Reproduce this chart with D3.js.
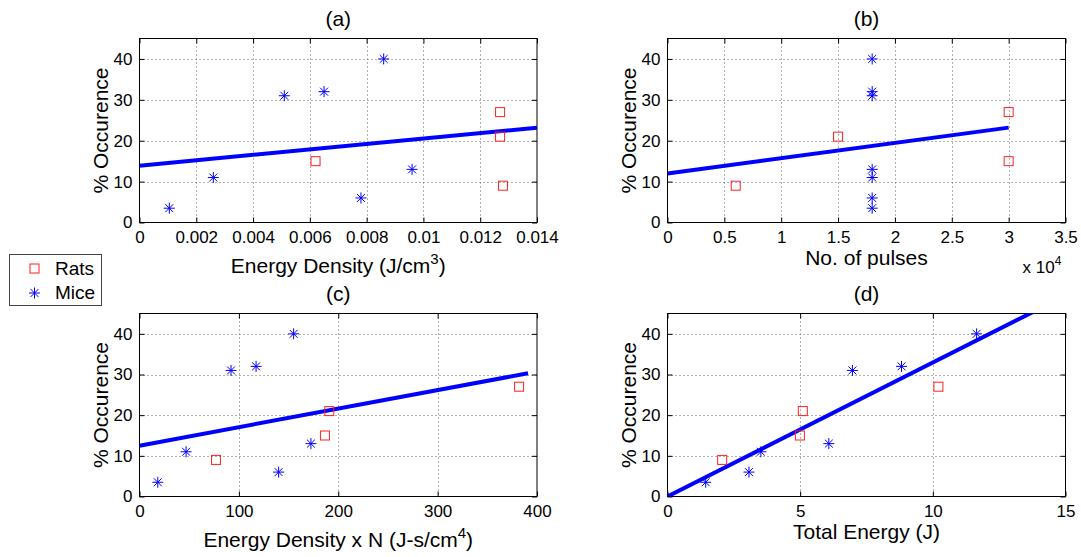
<!DOCTYPE html>
<html>
<head>
<meta charset="utf-8">
<script src="https://cdn.jsdelivr.net/npm/d3@7"></script>
<style>
  html, body { margin: 0; padding: 0; background: #fff; }
  svg { display: block; font-family: "Liberation Sans", Arial, sans-serif; }
</style>
</head>
<body>
<svg id="chart" width="1081" height="557"></svg>
<script>
// ---- Data ----
const miceOccurrence = [3.5, 11, 31, 32, 6, 40, 13];
const ratsOccurrence = [9, 15, 21, 27];

const miceEnergyDensity = [0.00105, 0.0026, 0.0051, 0.0065, 0.0078, 0.0086, 0.0096];
const ratsEnergyDensity = [0.0128, 0.0062, 0.0127, 0.0127];

const micePulses = [1.8, 1.8, 1.8, 1.8, 1.8, 1.8, 1.8]; // x 10^4
const ratsPulses = [0.6, 3.0, 1.5, 3.0];

const miceEnergyDensityN = [18.4, 46.9, 92.1, 117.3, 140, 155.1, 172.5];
const ratsEnergyDensityN = [77, 186.6, 191, 382];

const miceTotalEnergy = [1.44, 3.52, 6.97, 8.82, 3.07, 11.65, 6.08];
const ratsTotalEnergy = [2.06, 4.99, 5.1, 10.21];

// Fit line endpoints [x0, x1], [y0, y1]
const fitA = { x: [0, 0.014], y: [13.9, 23.2] };
const fitB = { x: [0, 3.0], y: [12.0, 23.2] };
const fitC = { x: [0, 391], y: [12.5, 30.3] };
const fitD = { x: [0, 15], y: [0, 49.4] };

const yTicks = [0, 10, 20, 30, 40];
const xTicksA = [0, 0.002, 0.004, 0.006, 0.008, 0.01, 0.012, 0.014];
const xTicksB = [0, 0.5, 1, 1.5, 2, 2.5, 3, 3.5];
const xTicksC = [0, 100, 200, 300, 400];
const xTicksD = [0, 5, 10, 15];

const legendLabels = ["Rats", "Mice"];

// ---- Drawing ----
const svg = d3.select("#chart");

const panels = [
  { id: "a", title: "(a)", box: [139.5, 537, 38.5, 222.5], xDomain: [0, 0.014], xTicks: xTicksA,
    mx: miceEnergyDensity, rx: ratsEnergyDensity, fit: fitA,
    label: ["Energy Density (J/cm", "3", ")"], labelY: 273 },
  { id: "b", title: "(b)", box: [667.5, 1065.5, 38.5, 222.5], xDomain: [0, 3.5], xTicks: xTicksB,
    mx: micePulses, rx: ratsPulses, fit: fitB,
    label: ["No. of pulses"], labelY: 265, exponent: true },
  { id: "c", title: "(c)", box: [139.5, 537, 313.5, 496.5], xDomain: [0, 400], xTicks: xTicksC,
    mx: miceEnergyDensityN, rx: ratsEnergyDensityN, fit: fitC,
    label: ["Energy Density x N (J-s/cm", "4", ")"], labelY: 547 },
  { id: "d", title: "(d)", box: [667.5, 1065.5, 313.5, 496.5], xDomain: [0, 15], xTicks: xTicksD,
    mx: miceTotalEnergy, rx: ratsTotalEnergy, fit: fitD,
    label: ["Total Energy (J)"], labelY: 539 }
];

function starPath(cx, cy, r) {
  const d = r * 0.72;
  return `M${cx},${cy - r}L${cx},${cy + r}M${cx - r},${cy}L${cx + r},${cy}` +
         `M${cx - d},${cy - d}L${cx + d},${cy + d}M${cx - d},${cy + d}L${cx + d},${cy - d}`;
}

panels.forEach(p => {
  const [x0, x1, y0, y1] = p.box;
  const x = d3.scaleLinear().domain(p.xDomain).range([x0, x1]);
  const y = d3.scaleLinear().domain([0, 45]).range([y1, y0]);
  const g = svg.append("g");

  // clip
  svg.append("clipPath").attr("id", "clip-" + p.id)
    .append("rect").attr("x", x0).attr("y", y0).attr("width", x1 - x0).attr("height", y1 - y0);

  // grid
  const grid = g.append("g").attr("stroke", "#333").attr("stroke-width", 1)
    .attr("stroke-dasharray", "1,3").attr("opacity", 0.75);
  p.xTicks.slice(1, -1).forEach(t => {
    grid.append("line").attr("x1", Math.round(x(t)) + 0.5).attr("x2", Math.round(x(t)) + 0.5)
      .attr("y1", y0).attr("y2", y1);
  });
  yTicks.slice(1).forEach(t => {
    grid.append("line").attr("y1", Math.round(y(t)) + 0.5).attr("y2", Math.round(y(t)) + 0.5)
      .attr("x1", x0).attr("x2", x1);
  });

  // axes via d3 axis (ticks inward)
  const fmt = d => String(+d.toFixed(4));
  const xAxisB = d3.axisBottom(x).tickValues(p.xTicks).tickSize(-5).tickPadding(8).tickFormat(fmt);
  const xAxisT = d3.axisTop(x).tickValues(p.xTicks).tickSize(-5).tickFormat("");
  const yAxisL = d3.axisLeft(y).tickValues(yTicks).tickSize(-5).tickPadding(7);
  const yAxisR = d3.axisRight(y).tickValues(yTicks).tickSize(-5).tickFormat("");

  const styleAxis = sel => {
    sel.select(".domain").remove();
    sel.selectAll("line").attr("stroke", "#000");
    sel.selectAll("text").attr("font-size", 17).attr("fill", "#000")
      .attr("font-family", "'Liberation Sans', Arial, sans-serif");
  };
  g.append("g").attr("transform", `translate(0,${y1})`).call(xAxisB).call(styleAxis);
  g.append("g").attr("transform", `translate(0,${y0})`).call(xAxisT).call(styleAxis);
  g.append("g").attr("transform", `translate(${x0},0)`).call(yAxisL).call(styleAxis);
  g.append("g").attr("transform", `translate(${x1},0)`).call(yAxisR).call(styleAxis);

  // box
  g.append("rect").attr("x", x0).attr("y", y0).attr("width", x1 - x0).attr("height", y1 - y0)
    .attr("fill", "none").attr("stroke", "#000").attr("stroke-width", 1);

  // fit line
  g.append("line").attr("clip-path", `url(#clip-${p.id})`)
    .attr("x1", x(p.fit.x[0])).attr("y1", y(p.fit.y[0]))
    .attr("x2", x(p.fit.x[1])).attr("y2", y(p.fit.y[1]))
    .attr("stroke", "#0000ff").attr("stroke-width", 4);

  // rats (squares)
  g.selectAll(".rat").data(p.rx.map((v, i) => [v, ratsOccurrence[i]])).enter()
    .append("rect").attr("x", d => x(d[0]) - 4.5).attr("y", d => y(d[1]) - 4.5)
    .attr("width", 9).attr("height", 9).attr("fill", "none")
    .attr("stroke", "#ff2020").attr("stroke-width", 1);

  // mice (stars)
  g.selectAll(".mouse").data(p.mx.map((v, i) => [v, miceOccurrence[i]])).enter()
    .append("path").attr("d", d => starPath(x(d[0]), y(d[1]), 5.5))
    .attr("stroke", "#0000ff").attr("stroke-width", 1).attr("fill", "none");

  // title
  g.append("text").attr("x", (x0 + x1) / 2).attr("y", y0 - 13).attr("text-anchor", "middle")
    .attr("font-size", 21).text(p.title);

  // y label
  g.append("text").attr("transform", `translate(${x0 - 32},${(y0 + y1) / 2}) rotate(-90)`)
    .attr("text-anchor", "middle").attr("font-size", 21).text("% Occurence");

  // x label
  const xl = g.append("text").attr("x", (x0 + x1) / 2).attr("y", p.labelY)
    .attr("text-anchor", "middle").attr("font-size", 21);
  xl.append("tspan").text(p.label[0]);
  if (p.label.length > 1) {
    xl.append("tspan").attr("dy", -9).attr("font-size", 15).text(p.label[1]);
    xl.append("tspan").attr("dy", 9).text(p.label[2]);
  }

  if (p.exponent) {
    const ex = g.append("text").attr("x", x1 - 43).attr("y", 273).attr("font-size", 17);
    ex.append("tspan").text("x 10");
    ex.append("tspan").attr("dy", -8).attr("font-size", 12).text("4");
  }
});

// legend
const lg = svg.append("g");
lg.append("rect").attr("x", 9.5).attr("y", 254.5).attr("width", 92).attr("height", 51)
  .attr("fill", "#fff").attr("stroke", "#444").attr("stroke-width", 1);
lg.append("rect").attr("x", 30).attr("y", 264).attr("width", 9).attr("height", 9)
  .attr("fill", "none").attr("stroke", "#ff2020");
lg.append("path").attr("d", starPath(34.5, 293, 5.5)).attr("stroke", "#0000ff").attr("fill", "none");
lg.selectAll(".lt").data(legendLabels).enter().append("text")
  .attr("x", 55).attr("y", (d, i) => 275 + i * 24).attr("font-size", 19).text(d => d);
</script>
</body>
</html>
